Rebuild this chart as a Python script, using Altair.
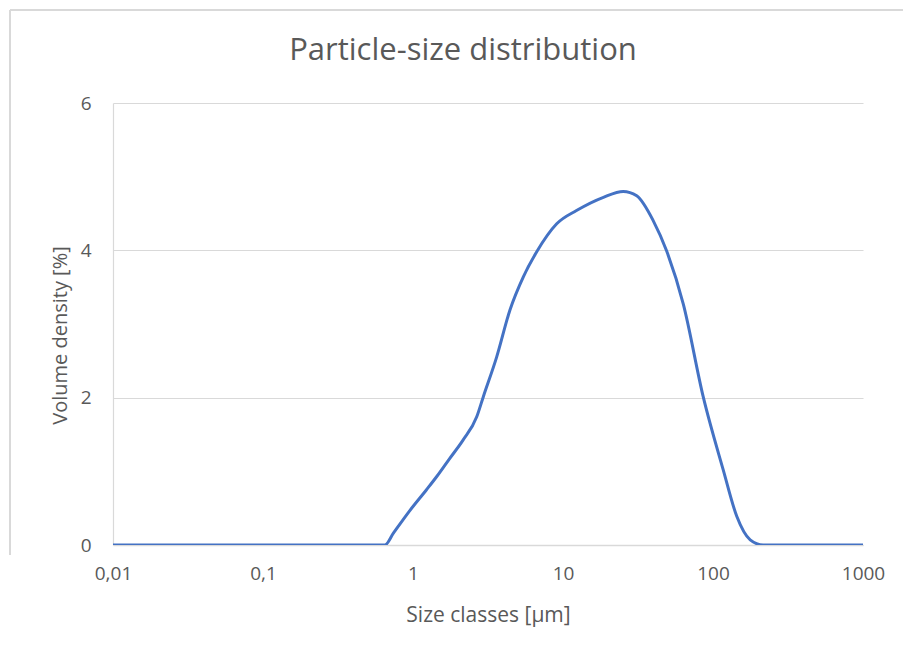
import altair as alt
import pandas as pd

# Particle size (µm) and volume density (%)
size_um = [0.01, 0.1, 0.5, 0.65, 0.74, 0.955, 1.23, 1.44, 1.75, 2.15, 2.66, 2.94,
           3.61, 4.43, 5.44, 6.68, 9.08, 12.3, 18.6, 25.2, 31.0, 40.0, 49.1,
           63.4, 86.1, 117, 144, 177, 216, 300, 1000]
volume_pct = [0.0, 0.0, 0.0, 0.0, 0.16, 0.47, 0.75, 0.93, 1.17, 1.42, 1.74, 2.01,
              2.55, 3.19, 3.64, 3.98, 4.36, 4.54, 4.72, 4.80, 4.74, 4.40, 3.99,
              3.27, 2.01, 1.02, 0.39, 0.07, 0.0, 0.0, 0.0]

x_tick_values = [0.01, 0.1, 1, 10, 100, 1000]
x_tick_labels = ["0,01", "0,1", "1", "10", "100", "1000"]
y_tick_values = [0, 2, 4, 6]

df = pd.DataFrame({"size": size_um, "vol": volume_pct})

label_expr = "''"
for v, lab in zip(reversed(x_tick_values), reversed(x_tick_labels)):
    label_expr = f"abs(datum.value - {v}) < {v}*1e-6 ? '{lab}' : ({label_expr})"

FONT = "Open Sans"
TXT = "#595959"
GRID = "#d9d9d9"

line = alt.Chart(df).mark_line(
    interpolate="monotone", color="#4472c4", strokeWidth=3, clip=True
).encode(
    x=alt.X("size:Q",
            scale=alt.Scale(type="log", domain=[0.01, 1000], nice=False),
            axis=alt.Axis(values=x_tick_values, labelExpr=label_expr,
                          title="Size classes [µm]", grid=False,
                          domainColor=GRID, domainWidth=1.5, ticks=False,
                          labelFlush=False,
                          labelPadding=19, labelFontSize=19, labelColor=TXT,
                          labelFont=FONT, titleFont=FONT, titleFontSize=21,
                          titleFontWeight="normal", titleColor=TXT,
                          titleX=375, titleY=70, titleBaseline="middle")),
    y=alt.Y("vol:Q",
            scale=alt.Scale(domain=[0, 6], nice=False),
            axis=alt.Axis(values=y_tick_values, title="Volume density [%]",
                          grid=True, gridColor=GRID, gridWidth=1.2,
                          domainColor=GRID, domainWidth=1.2, ticks=False,
                          labelPadding=22, labelFontSize=19, labelColor=TXT,
                          labelFont=FONT, titleFont=FONT, titleFontSize=20,
                          titleFontWeight="normal", titleColor=TXT,
                          titleX=-53, titleY=232, titleAngle=-90,
                          titleBaseline="middle")),
)

# decorative chart-area frame (top and left edges visible in reference)
frame_top = alt.Chart(df).mark_rule(color=GRID, strokeWidth=1.5).encode(
    x=alt.value(-103), x2=alt.value(790), y=alt.value(-93))
frame_left = alt.Chart(df).mark_rule(color=GRID, strokeWidth=1.5).encode(
    x=alt.value(-103), y=alt.value(-93), y2=alt.value(452))

chart = alt.layer(frame_top, frame_left, line).properties(
    width=750, height=442,
    autosize=alt.AutoSizeParams(type="none"),
    padding={"left": 113, "top": 103, "right": 40, "bottom": 110},
    title=alt.TitleParams("Particle-size distribution", font=FONT, fontSize=31,
                          fontWeight="normal", color=TXT, anchor="middle",
                          frame="group", dx=-25, offset=-82,
                          baseline="alphabetic"),
    background="white",
).configure_view(stroke=None)

chart.save("out.html", embed_options={"renderer": "svg", "actions": False})
